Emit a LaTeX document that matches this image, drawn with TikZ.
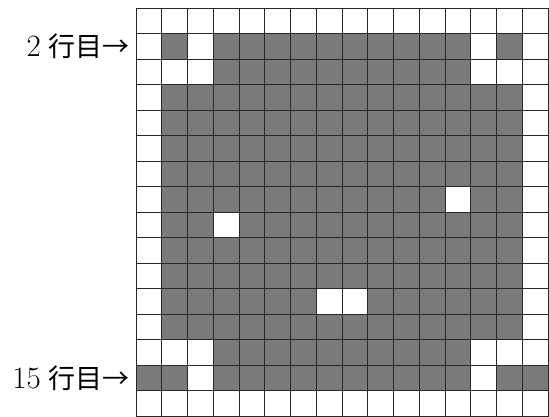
\documentclass[tikz,border=0pt]{standalone}
\usepackage{fontspec}
\newfontfamily\cjk{Noto Sans CJK JP}
\definecolor{cellgray}{RGB}{122,122,122}
\definecolor{linecol}{RGB}{40,40,40}
\begin{document}
\begin{tikzpicture}[x=1pt,y=-1pt,
  cellfill/.style={fill=cellgray},
  gridline/.style={draw=linecol,line width=0.8pt},
  rowlabel/.style={anchor=east,inner sep=0pt,font=\fontsize{31}{31}\selectfont}]
\useasboundingbox (0,0) rectangle (549,416);
\clip (0,0) rectangle (549,416);
\newcommand\gcell[2]{\fill[cellfill] ({136+(#2-1)*25.75},{8+(#1-1)*25.5}) rectangle ++(25.75,25.5);}
% rows 4-13, cols 2-15
\foreach \r in {4,...,13}{\foreach \c in {2,...,15}{\gcell{\r}{\c}}}
% rows 2,3,14,15, cols 4-13
\foreach \r in {2,3,14,15}{\foreach \c in {4,...,13}{\gcell{\r}{\c}}}
\gcell{2}{2}\gcell{2}{15}
\gcell{15}{1}\gcell{15}{2}\gcell{15}{15}\gcell{15}{16}
% holes
\foreach \r/\c in {8/13,9/4,12/8,12/9}{\fill[white] ({136+(\c-1)*25.75},{8+(\r-1)*25.5}) rectangle ++(25.75,25.5);}
% grid
\foreach \i in {0,...,16}{\draw[gridline] ({136+\i*25.75},8) -- ({136+\i*25.75},420);}
\foreach \j in {0,...,16}{\draw[gridline] (136,{8+\j*25.5}) -- (548,{8+\j*25.5});}
\node[rowlabel] (lab2) at (130,46.25) {2\hspace{8pt}{\cjk\fontsize{27}{27}\selectfont 行目→}};
\node[rowlabel] (lab15) at (130,378.5) {15\hspace{8pt}{\cjk\fontsize{27}{27}\selectfont 行目→}};
\end{tikzpicture}
\end{document}
